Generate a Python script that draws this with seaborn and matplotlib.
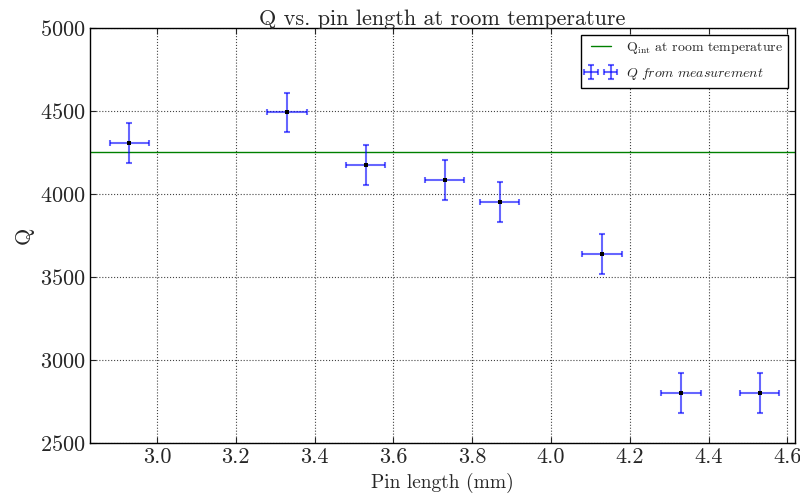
import numpy as np
import pandas as pd
import seaborn as sns
from matplotlib import pyplot as plt

# data
pin_length = [2.93, 3.33, 3.53, 3.73, 3.87, 4.13, 4.33, 4.53]
q_measured = [4305, 4490, 4175, 4085, 3950, 3635, 2800, 2800]
q_err = [120, 120, 120, 120, 120, 120, 120, 120]
pin_err = [0.05, 0.05, 0.05, 0.05, 0.05, 0.05, 0.05, 0.05]
q_int = 4250

df = pd.DataFrame({'pin': pin_length, 'Q': q_measured})

sns.set_style('ticks')
plt.rcParams['font.family'] = 'serif'
plt.rcParams['font.serif'] = ['cmr10', 'DejaVu Serif']
plt.rcParams['mathtext.fontset'] = 'cm'
plt.rcParams['axes.formatter.use_mathtext'] = True

fig = plt.figure(figsize=(8, 4.97), dpi=100)
ax = fig.add_axes([0.1125, 0.109, 0.8815, 0.835])

ax.axhline(q_int, color='green', lw=1, label=r'Q$_{\rm int}$ at room temperature')
ax.errorbar(pin_length, q_measured, yerr=q_err, xerr=pin_err, fmt='none',
            ecolor='blue', alpha=0.6, elinewidth=1.5, capsize=2, capthick=1.5,
            label=r'$Q\ from\ measurement$')
sns.scatterplot(x='pin', y='Q', data=df, color='black', marker='s', s=7,
                linewidth=0, ax=ax, zorder=5)

ax.set_xlim(2.83, 4.62)
ax.set_ylim(2500, 5000)
ax.set_xticks(np.arange(3.0, 4.61, 0.2))
ax.set_xticklabels(['%.1f' % t for t in np.arange(3.0, 4.61, 0.2)])
ax.set_yticks(range(2500, 5001, 500))
ax.tick_params(direction='in', top=True, right=True, labelsize=16, length=4)
ax.grid(True, color='#444444', linestyle=':', linewidth=0.8)
for s in ax.spines.values():
    s.set_linewidth(1)
    s.set_color('black')

ax.set_title('Q vs. pin length at room temperature', fontsize=16, pad=2)
ax.set_xlabel('Pin length (mm)', fontsize=14)
ax.set_ylabel('Q', fontsize=16)

h, l = ax.get_legend_handles_labels()
ax.legend(h, l, loc='upper right', fontsize=10, fancybox=False, framealpha=1,
          edgecolor='black', numpoints=2, labelspacing=0.7)

fig.savefig('out.png', dpi=100)
